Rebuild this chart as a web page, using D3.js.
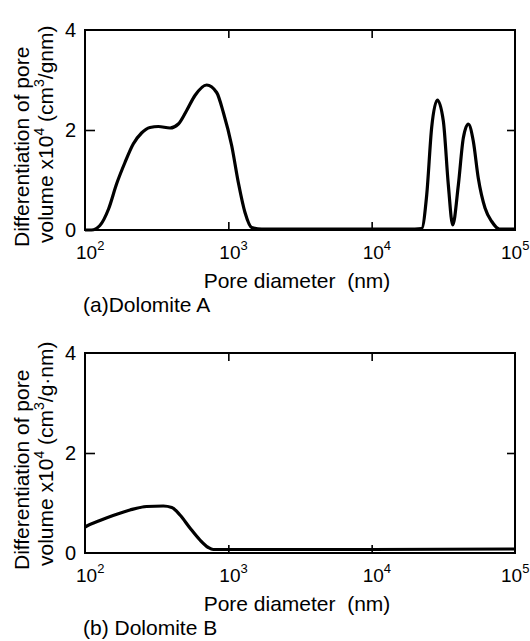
<!DOCTYPE html>
<html lang="en">
<head>
    <meta charset="UTF-8">
    <title>Pore size distribution of dolomite A and B</title>
    <script src="https://d3js.org/d3.v7.min.js"></script>
    <style>
        body { margin: 0; background: #fff; }
        text { font-family: "Liberation Sans", Arial, sans-serif; fill: #000; }
    </style>
</head>
<body>
    <script>
        // pore diameter (nm) and d(pore volume) x 10^4
        const diamA = [100, 111, 127, 146, 166, 190, 217, 248, 284, 325, 392, 448, 512, 585, 706, 829, 923, 1055, 1174, 1307, 1456, 1710,
                       5000, 20000, 22340, 24210, 26220, 28730, 31620, 34270, 36760, 40250, 43590, 47210, 51150, 55420, 61780, 68840, 77800, 100000];
        const volA = [0, 0, 0.09, 0.42, 0.92, 1.35, 1.72, 1.94, 2.05, 2.07, 2.04, 2.12, 2.39, 2.69, 2.9, 2.75, 2.35, 1.69, 0.95, 0.35, 0.05, 0.02,
                      0.02, 0.02, 0.03, 0.7, 2.05, 2.6, 2.18, 0.9, 0.1, 0.9, 1.84, 2.12, 1.78, 1.04, 0.44, 0.17, 0.02, 0.02];

        const diamB = [100, 103, 127, 157, 206, 269, 352, 403, 460, 540, 634, 725, 785, 2000, 10000, 100000];
        const volB = [0.52, 0.54, 0.65, 0.75, 0.86, 0.93, 0.94, 0.91, 0.76, 0.5, 0.26, 0.11, 0.07, 0.07, 0.07, 0.08];

        const xTicks = [1e2, 1e3, 1e4, 1e5];
        const yTicks = [0, 2, 4];

        const width = 530, height = 641;
        const left = 85, right = 515;

        const svg = d3.select("body").append("svg")
            .attr("width", width)
            .attr("height", height);

        const x = d3.scaleLog().domain([1e2, 1e5]).range([left, right]);

        function panel(diam, vol, top, bottom, caption, unit) {
            const y = d3.scaleLinear().domain([0, 4]).range([bottom, top]);
            const g = svg.append("g");

            // inward ticks
            const tk = (axis, tx, ty) => g.append("g")
                .attr("transform", `translate(${tx},${ty})`)
                .call(axis)
                .call(s => s.select(".domain").remove())
                .call(s => s.selectAll("line").attr("stroke-width", 1.6));
            tk(d3.axisBottom(x).tickValues([1e3, 1e4]).tickSize(-8).tickFormat(""), 0, bottom);
            tk(d3.axisTop(x).tickValues([1e3, 1e4]).tickSize(-8).tickFormat(""), 0, top);
            tk(d3.axisLeft(y).tickValues([2]).tickSize(-10).tickFormat(""), left, 0);
            tk(d3.axisRight(y).tickValues([2]).tickSize(-8).tickFormat(""), right, 0);

            g.append("rect")
                .attr("x", left).attr("y", top)
                .attr("width", right - left).attr("height", bottom - top)
                .attr("fill", "none").attr("stroke", "#000").attr("stroke-width", 2);

            // y tick labels
            g.selectAll(".ylab").data(yTicks).enter().append("text")
                .attr("x", left - 9)
                .attr("y", d => y(d) + 7)
                .attr("text-anchor", "end")
                .attr("font-size", 20)
                .text(d => d);

            // x tick labels 10^n, last one kept inside the page
            const xl = g.selectAll(".xlab").data(xTicks).enter().append("text")
                .attr("x", d => Math.min(x(d) - 9, width - 29))
                .attr("y", bottom + 29)
                .attr("font-size", 19);
            xl.append("tspan").text("10");
            xl.append("tspan").attr("dy", -9).attr("font-size", 13).text(d => Math.round(Math.log10(d)));

            g.append("text")
                .attr("x", 297).attr("y", bottom + 58)
                .attr("text-anchor", "middle")
                .attr("font-size", 21)
                .attr("xml:space", "preserve")
                .text("Pore diameter  (nm)");

            g.append("text")
                .attr("x", 83).attr("y", bottom + 82)
                .attr("font-size", 21)
                .text(caption);

            // rotated two-line y title
            g.append("text")
                .attr("transform", `translate(29,${bottom + 17}) rotate(-90)`)
                .attr("font-size", 21)
                .text("Differentiation of pore");
            const t2 = g.append("text")
                .attr("transform", `translate(53,${bottom + 13}) rotate(-90)`)
                .attr("font-size", 21);
            t2.append("tspan").text("volume x10");
            t2.append("tspan").attr("dy", -9).attr("font-size", 14).text("4");
            t2.append("tspan").attr("dy", 9).text(" (cm");
            t2.append("tspan").attr("dy", -9).attr("font-size", 14).text("3");
            t2.append("tspan").attr("dy", 9).text(unit);

            const line = d3.line()
                .x(d => x(d[0]))
                .y(d => y(d[1]))
                .curve(d3.curveMonotoneX);

            g.append("path")
                .datum(d3.zip(diam, vol))
                .attr("d", line)
                .attr("fill", "none")
                .attr("stroke", "#000")
                .attr("stroke-width", 3.2)
                .attr("stroke-linejoin", "round");
        }

        panel(diamA, volA, 30, 230, "(a)Dolomite A", "/gnm)");
        panel(diamB, volB, 353, 553, "(b) Dolomite B", "/g·nm)");
    </script>
</body>
</html>
